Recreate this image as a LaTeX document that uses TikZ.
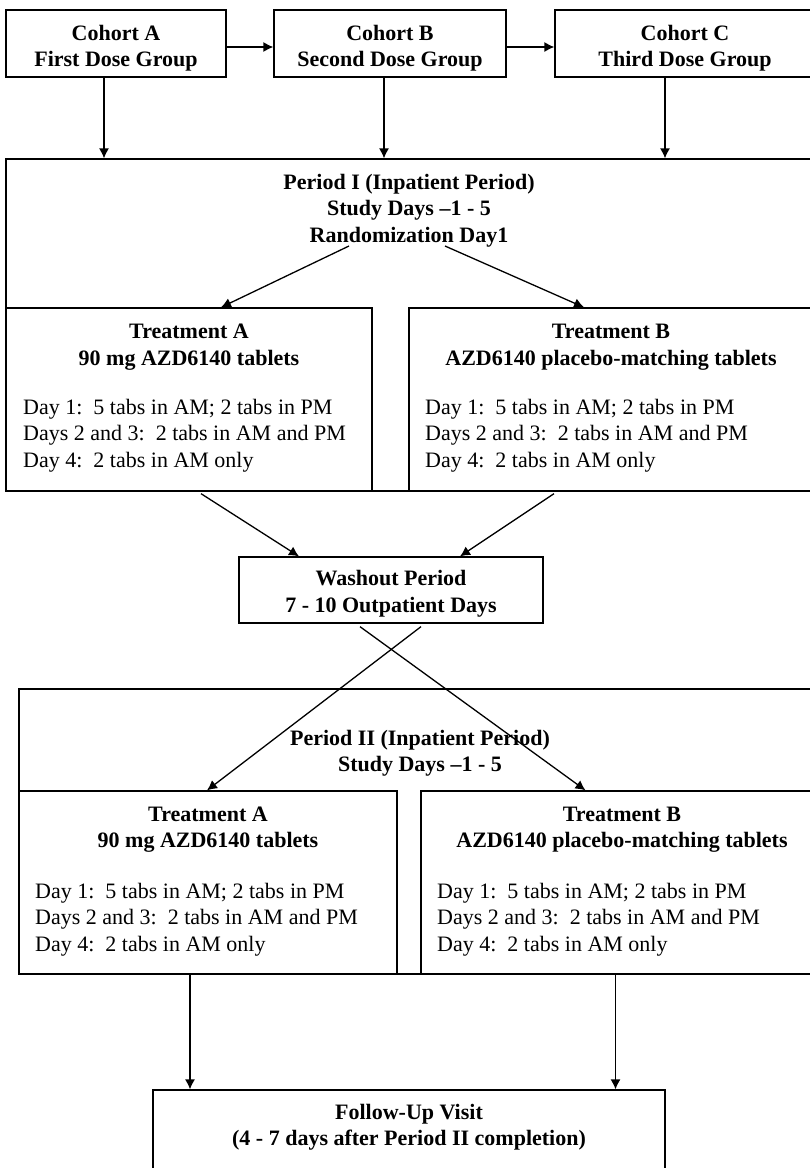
\documentclass[tikz,border=0pt]{standalone}
\usepackage{fontspec}
\setmainfont{Liberation Serif}
\usetikzlibrary{arrows.meta,fit}
\begin{document}
\begin{tikzpicture}[x=1pt,y=-1pt,
  boxst/.style={draw,line width=1.3pt,inner sep=0pt},
  btxt/.style={font=\fontsize{22}{26.5}\selectfont\bfseries,align=center,inner sep=0pt},
  ntxt/.style={font=\fontsize{22}{26.5}\selectfont,align=left,inner sep=0pt,anchor=west},
  arr/.style={line width=1.3pt,-{Latex[length=10pt,width=10pt]}}]
\path[use as bounding box,clip] (0,0) rectangle (810,1168);
\fill[white] (0,0) rectangle (810,1168);

% Cohort boxes
\node[boxst,fit={(6,10) (226,77)}] (coA) {};
\node[boxst,fit={(274,10) (506,77)}] (coB) {};
\node[boxst,fit={(555,10) (815,77)}] (coC) {};
\node[btxt] (coAt) at (116,48) {Cohort A\\First Dose Group};
\node[btxt] (coBt) at (390,48) {Cohort B\\Second Dose Group};
\node[btxt] (coCt) at (685,48) {Cohort C\\Third Dose Group};

% Period I
\node[boxst,fit={(6,159) (813,491)}] (p1) {};
\node[boxst,fit={(6,308) (372,491)}] (tA) {};
\node[boxst,fit={(409,308) (813,491)}] (tB) {};
\node[btxt] (p1t) at (409,210.5) {Period I (Inpatient Period)\\Study Days –1 - 5\\Randomization Day1};
\node[btxt] (tAt) at (189,347) {Treatment A\\90 mg AZD6140 tablets};
\node[btxt] (tBt) at (611,347) {Treatment B\\AZD6140 placebo-matching tablets};
\node[ntxt] (tAd) at (23,435.5) {Day 1:\ \ 5 tabs in AM; 2 tabs in PM\\Days 2 and 3:\ \ 2 tabs in AM and PM\\Day 4:\ \ 2 tabs in AM only};
\node[ntxt] (tBd) at (425,435.5) {Day 1:\ \ 5 tabs in AM; 2 tabs in PM\\Days 2 and 3:\ \ 2 tabs in AM and PM\\Day 4:\ \ 2 tabs in AM only};

% Washout
\node[boxst,fit={(239,557) (543,623)}] (wo) {};
\node[btxt] (wot) at (391,593.5) {Washout Period\\7 - 10 Outpatient Days};

% Period II
\node[boxst,fit={(19,689) (822,974)}] (p2) {};
\node[boxst,fit={(19,791) (397,974)}] (t2A) {};
\node[boxst,fit={(421,791) (822,974)}] (t2B) {};
\node[btxt] (p2t) at (420,753) {Period II (Inpatient Period)\\Study Days –1 - 5};
\node[btxt] (t2At) at (208,829.5) {Treatment A\\90 mg AZD6140 tablets};
\node[btxt] (t2Bt) at (622,829.5) {Treatment B\\AZD6140 placebo-matching tablets};
\node[ntxt] (t2Ad) at (35,919.5) {Day 1:\ \ 5 tabs in AM; 2 tabs in PM\\Days 2 and 3:\ \ 2 tabs in AM and PM\\Day 4:\ \ 2 tabs in AM only};
\node[ntxt] (t2Bd) at (437,919.5) {Day 1:\ \ 5 tabs in AM; 2 tabs in PM\\Days 2 and 3:\ \ 2 tabs in AM and PM\\Day 4:\ \ 2 tabs in AM only};

% Follow-up
\node[boxst,fit={(153,1090) (665,1185)}] (fu) {};
\node[btxt] (fut) at (409,1127) {Follow-Up Visit\\(4 - 7 days after Period II completion)};

% Connectors
\draw[arr] ([yshift=-3.5pt]coA.east) -- ([yshift=-3.5pt]coA.east -| coB.west);
\draw[arr] ([yshift=-3.5pt]coB.east) -- ([yshift=-3.5pt]coB.east -| coC.west);
\draw[arr] ([xshift=-12pt]coA.south) -- ([xshift=-12pt]coA.south |- p1.north);
\draw[arr] ([xshift=-6pt]coB.south) -- ([xshift=-6pt]coB.south |- p1.north);
\draw[arr] ([xshift=-20pt]coC.south) -- ([xshift=-20pt]coC.south |- p1.north);

\coordinate (r1) at (349,246);
\coordinate (r2) at (445,246);
\draw[arr] (r1) -- ([xshift=32pt]tA.north);
\draw[arr] (r2) -- ([xshift=-27pt]tB.north);

\draw[arr] ([xshift=12pt,yshift=-2pt]tA.south) -- ([xshift=-92pt]wo.north);
\draw[arr] ([xshift=-57pt,yshift=-2pt]tB.south) -- ([xshift=69pt]wo.north);

\draw[arr] ([xshift=30pt,yshift=-3pt]wo.south) -- ([xshift=-1pt]t2A.north);
\draw[arr] ([xshift=-31pt,yshift=-3pt]wo.south) -- ([xshift=-36pt]t2B.north);

\draw[arr] ([xshift=-18pt]t2A.south) -- ([xshift=-18pt]t2A.south |- fu.north);
\draw[arr] ([xshift=-6pt]t2B.south) -- ([xshift=-6pt]t2B.south |- fu.north);
\end{tikzpicture}
\end{document}
